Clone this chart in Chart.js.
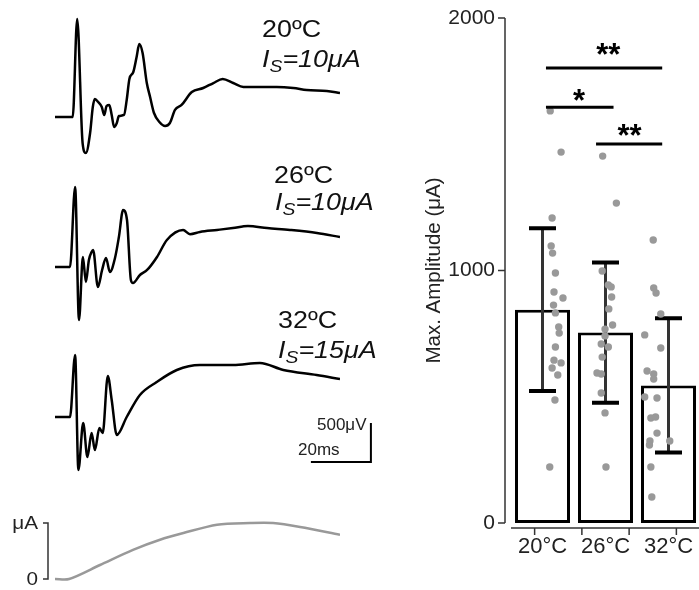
<!DOCTYPE html>
<html>
<head>
<meta charset="utf-8">
<script src="https://cdn.jsdelivr.net/npm/chart.js@4.4.1/dist/chart.umd.min.js"></script>
<style>
  html, body { margin: 0; padding: 0; background: #fff; overflow: hidden; }
  body { width: 699px; height: 590px; position: relative; font-family: 'Liberation Sans', Arial, sans-serif; }
  canvas { position: absolute; }
  .lbl { position: absolute; font-size: 24px; line-height: 24px; color: #111; white-space: nowrap; transform: scaleX(1.12); transform-origin: 0 0; }
  .lbl sub { font-size: 0.72em; line-height: 0; vertical-align: -0.3em; }
  .small { position: absolute; font-size: 17px; line-height: 17px; color: #222; white-space: nowrap; }
  .axl { position: absolute; font-size: 18px; line-height: 18px; color: #222; white-space: nowrap; text-align: right; width: 38px; transform: scaleX(1.15); transform-origin: 100% 0; }
</style>
</head>
<body>
<canvas id="traces" width="420" height="590" style="left:0;top:0"></canvas>
<canvas id="amp" width="280" height="590" style="left:420px;top:0"></canvas>

<div class="lbl" style="left:262px;top:17px">20ºC</div>
<div class="lbl" style="left:262px;top:47px"><i>I<sub>S</sub>=10μA</i></div>
<div class="lbl" style="left:274px;top:163px">26ºC</div>
<div class="lbl" style="left:275px;top:190px"><i>I<sub>S</sub>=10μA</i></div>
<div class="lbl" style="left:278px;top:308px">32ºC</div>
<div class="lbl" style="left:278px;top:338px"><i>I<sub>S</sub>=15μA</i></div>
<div class="small" style="left:317px;top:416px">500μV</div>
<div class="small" style="left:298px;top:441px">20ms</div>
<div class="axl" style="left:0;top:514px">μA</div>
<div class="axl" style="left:0;top:570px">0</div>

<script>
// --- recordings (time in ms, voltage in μV) ---
const time20 = [0, 5.9, 7.4, 9.2, 10.3, 11.7, 12.6, 13.3, 14.4, 15.6, 16.4, 17.2, 18.1, 18.9, 19.7, 20.6, 21.3, 23, 23.9, 24.8, 26.1, 27.2, 28.1, 29.2, 30.6, 31.7, 33, 34.8, 36.7, 38.3, 40, 42.2, 45.6, 49.4, 52.8, 55.9, 59.4, 62.8, 68.3, 73.9, 79.4, 83.9, 90.6, 95];
const volt20 = [0, 0, 1254, -333, -461, -205, 128, 230, 192, 128, 26, 141, 154, 26, -128, -77, 13, 26, 218, 486, 576, 768, 934, 819, 435, 256, 51, -64, -115, -77, 90, 154, 320, 371, 435, 486, 435, 384, 384, 384, 371, 346, 333, 307];

const time26 = [0, 5, 6.7, 8, 9.3, 10.3, 11.3, 12.2, 12.7, 14.3, 15.7, 17, 18.3, 20, 21.3, 22.7, 24, 25.3, 26, 28.3, 30.7, 34, 37.3, 42.7, 45, 48.3, 54, 59.3, 64.3, 70.7, 78.3, 87.3, 95];
const volt26 = [0, 0, 1024, -678, 128, -192, 90, 192, 218, -256, -38, 115, -64, 115, 384, 730, 602, -166, -205, -102, -38, 128, 346, 474, 420, 448, 474, 499, 525, 499, 474, 435, 384];

const time32 = [0, 5, 6.7, 7.8, 9.4, 10.8, 12.2, 13.3, 14.8, 15.9, 17.6, 18.9, 20.6, 23.9, 28.3, 33.9, 40.6, 48.3, 59.4, 68.3, 76.1, 87.2, 95];
const volt32 = [0, 0, 794, -678, -77, -512, -205, -422, -141, -205, 525, 218, -230, 0, 282, 448, 602, 666, 666, 691, 602, 538, 486];

// stimulus current (μA)
const timeStim = [0, 4.7, 15, 26, 35, 42.8, 54, 65, 72.7, 81.7, 95];
const currStim = [0, 0, 2.5, 5.2, 7, 8.2, 9.7, 10, 10, 9.3, 7.9];
const stimPeak = 10;

// scale bar (ms, μV)
const scaleMs = 20;
const scaleUv = 500;

// --- amplitude summary ---
const categories = ['20°C', '26°C', '32°C'];
const meanAmp = [845, 754, 545];
const sdAmp = [322, 278, 266];
const yTicks = [0, 1000, 2000];

const cells20 = [1632, 1469, 1208, 1097, 1069, 990, 915, 891, 863, 832, 776, 752, 697, 645, 634, 614, 586, 487, 222];
const jitter20 = [-0.17, 0.06, -0.13, -0.15, -0.12, -0.06, -0.09, 0.10, -0.10, -0.06, 0.01, 0.02, -0.06, -0.09, 0.06, -0.13, -0.01, -0.07, -0.18];
const cells26 = [1453, 1267, 998, 943, 935, 895, 848, 784, 768, 741, 709, 697, 657, 594, 590, 515, 436, 222];
const jitter26 = [-0.06, 0.23, -0.07, 0.06, 0.12, 0.13, 0.07, 0.15, -0.01, -0.01, -0.09, 0.06, -0.07, -0.18, -0.09, -0.09, -0.01, 0.01];
const cells32 = [1121, 931, 911, 828, 745, 693, 602, 590, 570, 499, 495, 416, 420, 356, 325, 325, 309, 222, 103];
const jitter32 = [0.01, 0.02, 0.07, 0.17, -0.17, 0.17, -0.12, 0.02, 0.02, -0.17, 0.09, -0.04, 0.06, 0.09, 0.36, -0.06, -0.07, -0.04, -0.02];

// significance brackets (category units / μA)
const sigFrom = [-0.26, -0.26, 0.8];
const sigTo = [2.2, 1.17, 2.2];
const sigLevel = [1802, 1647, 1501];
const sigText = ['**', '*', '**'];
const sigTextX = [1.06, 0.44, 1.51];
const sigTextLevel = [1867, 1685, 1548];

// layout of the trace panel (pixels)
const H = 590;
const uvPerPx = 12.8;
const uaPerPx = stimPeak / 56;
const baselines = [117, 267, 417, 579];

Chart.defaults.font.family = "'Liberation Sans', Arial, sans-serif";
Chart.defaults.animation = false;

function pts(t, v) { return t.map((x, i) => ({ x: x, y: v[i] })); }
function hiddenAxis(base, perPx) {
  return { type: 'linear', display: false, min: -(H - base) * perPx, max: base * perPx };
}

const traceDecor = {
  id: 'traceDecor',
  afterDraw(chart) {
    const c = chart.ctx, xs = chart.scales.x, y3 = chart.scales.y2, ys = chart.scales.ys;
    // scale bar, anchored to the right of the 32°C trace
    const xr = xs.getPixelForValue(105.3), yb = y3.getPixelForValue(-576);
    const xl = xs.getPixelForValue(105.3 - scaleMs), yt = y3.getPixelForValue(-576 + scaleUv);
    c.save();
    c.strokeStyle = '#000';
    c.lineWidth = 2;
    c.beginPath();
    c.moveTo(xl, yb); c.lineTo(xr, yb); c.lineTo(xr, yt);
    c.stroke();
    // bracket for the stimulus
    const bx = xs.left - 7, y0 = ys.getPixelForValue(0), y1 = ys.getPixelForValue(stimPeak);
    c.strokeStyle = '#333';
    c.lineWidth = 1.5;
    c.beginPath();
    c.moveTo(bx - 5, y1); c.lineTo(bx, y1); c.lineTo(bx, y0); c.lineTo(bx - 5, y0);
    c.stroke();
    c.restore();
  }
};

const traceLine = { borderColor: '#000', borderWidth: 2.5, pointRadius: 0, cubicInterpolationMode: 'monotone' };

new Chart(document.getElementById('traces'), {
  type: 'line',
  data: {
    datasets: [
      { ...traceLine, data: pts(time20, volt20), yAxisID: 'y0' },
      { ...traceLine, data: pts(time26, volt26), yAxisID: 'y1' },
      { ...traceLine, data: pts(time32, volt32), yAxisID: 'y2' },
      { ...traceLine, data: pts(timeStim, currStim), yAxisID: 'ys', borderColor: '#999', cubicInterpolationMode: 'default', tension: 0.3 }
    ]
  },
  options: {
    responsive: false,
    events: [],
    layout: { autoPadding: false, padding: { left: 55, right: 80, top: 0, bottom: 0 } },
    plugins: { legend: { display: false }, tooltip: { enabled: false } },
    scales: {
      x: { type: 'linear', display: false, min: 0, max: 95 },
      y0: hiddenAxis(baselines[0], uvPerPx),
      y1: hiddenAxis(baselines[1], uvPerPx),
      y2: hiddenAxis(baselines[2], uvPerPx),
      ys: hiddenAxis(baselines[3], uaPerPx)
    }
  },
  plugins: [traceDecor]
});

// --- bar chart ---
const cellPoints = [];
[[cells20, jitter20], [cells26, jitter26], [cells32, jitter32]].forEach(([vals, jit], i) => {
  vals.forEach((v, j) => cellPoints.push({ x: i + jit[j], y: v }));
});

const ampDecor = {
  id: 'ampDecor',
  afterDatasetDraw(chart, args) {
    if (args.index !== 0) return;
    const c = chart.ctx, xs = chart.scales.x, ys = chart.scales.y;
    c.save();
    meanAmp.forEach((m, i) => {
      const x = xs.getPixelForValue(i);
      const top = ys.getPixelForValue(m + sdAmp[i]), bot = ys.getPixelForValue(m - sdAmp[i]);
      c.strokeStyle = '#333';
      c.lineWidth = 3;
      c.beginPath(); c.moveTo(x, top); c.lineTo(x, bot); c.stroke();
      c.strokeStyle = '#000';
      c.lineWidth = 4;
      c.beginPath();
      c.moveTo(x - 13.5, top); c.lineTo(x + 13.5, top);
      c.moveTo(x - 13.5, bot); c.lineTo(x + 13.5, bot);
      c.stroke();
    });
    c.restore();
  },
  afterDraw(chart) {
    const c = chart.ctx, xj = chart.scales.xj, ys = chart.scales.y, area = chart.chartArea;
    c.save();
    // detached axes
    c.strokeStyle = '#333';
    c.lineWidth = 1.5;
    const ax = area.left - 6;
    c.beginPath();
    c.moveTo(ax, ys.getPixelForValue(yTicks[yTicks.length - 1]));
    c.lineTo(ax, ys.getPixelForValue(0));
    yTicks.forEach(v => { const p = ys.getPixelForValue(v); c.moveTo(ax - 7, p); c.lineTo(ax, p); });
    const ay = area.bottom + 5;
    c.moveTo(area.left, ay); c.lineTo(area.right, ay);
    for (let i = 0; i <= categories.length; i++) {
      const p = xj.getPixelForValue(i - 0.5);
      c.moveTo(p, ay); c.lineTo(p, ay + 7);
    }
    c.stroke();
    // significance
    const fs = 31;
    c.strokeStyle = '#000';
    c.fillStyle = '#000';
    c.lineWidth = 3;
    c.font = 'bold ' + fs + "px 'Liberation Sans', Arial, sans-serif";
    c.textAlign = 'center';
    c.textBaseline = 'alphabetic';
    sigLevel.forEach((lv, i) => {
      const x0 = xj.getPixelForValue(sigFrom[i]), x1 = xj.getPixelForValue(sigTo[i]);
      const y = ys.getPixelForValue(lv);
      c.beginPath(); c.moveTo(x0, y); c.lineTo(x1, y); c.stroke();
      c.fillText(sigText[i], xj.getPixelForValue(sigTextX[i]), ys.getPixelForValue(sigTextLevel[i]) + fs * 0.44);
    });
    c.restore();
  }
};

new Chart(document.getElementById('amp'), {
  type: 'bar',
  data: {
    labels: categories,
    datasets: [
      {
        data: meanAmp,
        backgroundColor: '#fff',
        borderColor: '#000',
        borderWidth: 3,
        borderSkipped: false,
        grouped: false,
        categoryPercentage: 1,
        barPercentage: 0.873,
        order: 2
      },
      {
        type: 'scatter',
        data: cellPoints,
        xAxisID: 'xj',
        pointRadius: 3.7,
        pointBackgroundColor: '#999',
        pointBorderWidth: 0,
        order: 1
      }
    ]
  },
  options: {
    responsive: false,
    events: [],
    layout: { autoPadding: false, padding: { top: 18, right: 0, left: 0, bottom: 0 } },
    plugins: { legend: { display: false }, tooltip: { enabled: false } },
    scales: {
      x: {
        type: 'category',
        offset: true,
        grid: { display: false, drawTicks: true, tickLength: 11 },
        border: { display: false },
        ticks: { font: { size: 22 }, color: '#222', padding: 0 },
        afterFit: s => { s.height = 67; }
      },
      xj: { type: 'linear', display: false, min: -0.5, max: 2.5 },
      y: {
        min: 0,
        max: 2000,
        grid: { display: false, drawTicks: true, tickLength: 16 },
        border: { display: false },
        ticks: { stepSize: 1000, font: { size: 21 }, color: '#222', padding: 0, callback: v => String(v) },
        title: { display: true, text: 'Max. Amplitude (μA)', font: { size: 20.5 }, color: '#222', padding: 2 },
        afterFit: s => { s.width = 91; }
      }
    }
  },
  plugins: [ampDecor]
});
</script>
</body>
</html>
